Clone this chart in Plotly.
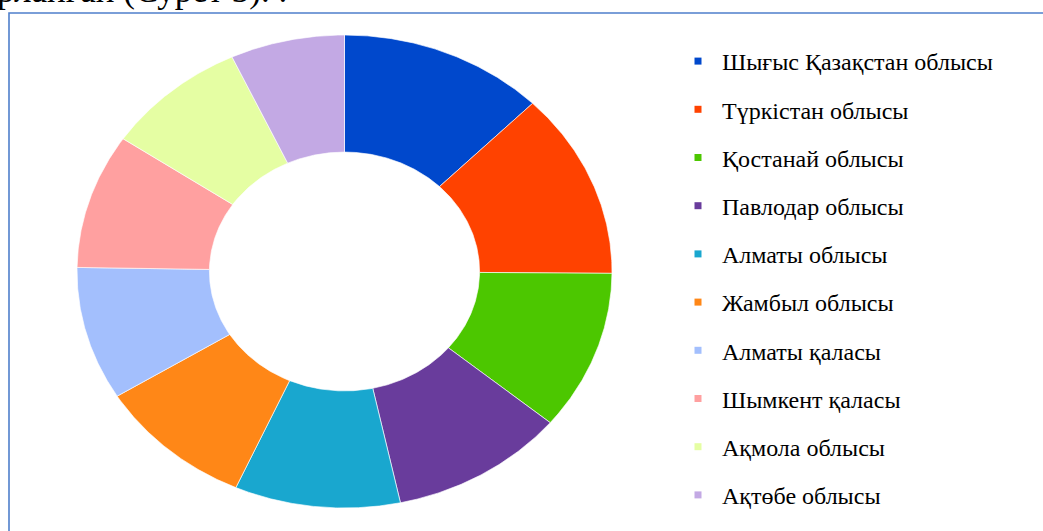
import numpy as np
import plotly.graph_objects as go

# Regional shares (%) shown in the ring, clockwise from 12 o'clock
regions = [
    "Шығыс Қазақстан облысы",
    "Түркістан облысы",
    "Қостанай облысы",
    "Павлодар облысы",
    "Алматы облысы",
    "Жамбыл облысы",
    "Алматы қаласы",
    "Шымкент қаласы",
    "Ақмола облысы",
    "Ақтөбе облысы",
]
shares = [12.4, 12.7, 10.9, 10.6, 10.0, 9.5, 9.1, 9.2, 8.6, 6.9]
colors = [
    "#0048CC", "#FF4200", "#4CC700", "#693C9C", "#19A7CF",
    "#FF8717", "#A3BFFD", "#FFA0A0", "#E5FEA3", "#C3A9E4",
]

W, H = 1043, 531
# ring geometry in page pixels (slightly wider than tall)
CX, CY = 344.5, 271.5
RX, RY = 267.5, 236.5
HOLE = 0.505

fig = go.Figure()

total = float(sum(shares))
start = 0.0
for name, val, col in zip(regions, shares, colors):
    end = start + val / total * 2 * np.pi
    t = np.linspace(start, end, 120)
    xo = CX + RX * np.sin(t)
    yo = CY - RY * np.cos(t)
    xi = CX + HOLE * RX * np.sin(t[::-1])
    yi = CY - HOLE * RY * np.cos(t[::-1])
    fig.add_trace(go.Scatter(
        x=np.concatenate([xo, xi, xo[:1]]),
        y=np.concatenate([yo, yi, yo[:1]]),
        mode="lines", fill="toself", fillcolor=col,
        line=dict(color="rgba(255,255,255,0.8)", width=0.8),
        name=name, legendgroup=name, showlegend=False,
        hoverinfo="name",
    ))
    # small square key for the legend
    fig.add_trace(go.Scatter(
        x=[None], y=[None], mode="markers",
        marker=dict(symbol="square", size=7, color=col),
        name=name, legendgroup=name, showlegend=True,
    ))
    start = end

# frame around the figure
fig.add_shape(type="rect", xref="x", yref="y",
              x0=9, x1=W + 20, y0=13, y1=H + 20,
              line=dict(color="#4F7FCB", width=1.6), fillcolor="rgba(0,0,0,0)",
              layer="below")

# caption line running above the frame
fig.add_annotation(
    xref="paper", yref="paper", x=-5 / W, y=1 - 12 / H,
    xanchor="left", yanchor="bottom", showarrow=False,
    text="рланған (Сурет 3). .",
    font=dict(family="Liberation Serif", size=35, color="#000000"),
)

fig.update_layout(
    width=W, height=H,
    margin=dict(l=0, r=0, t=0, b=0),
    paper_bgcolor="white", plot_bgcolor="white",
    xaxis=dict(range=[0, W], visible=False, fixedrange=True),
    yaxis=dict(range=[H, 0], visible=False, fixedrange=True),
    showlegend=True,
    legend=dict(
        x=674 / W, y=1 - 39 / H, xanchor="left", yanchor="top",
        font=dict(family="Liberation Serif", size=24, color="#000000"),
        tracegroupgap=14, itemwidth=38, bgcolor="rgba(0,0,0,0)",
    ),
)

fig.write_html("out.html")
